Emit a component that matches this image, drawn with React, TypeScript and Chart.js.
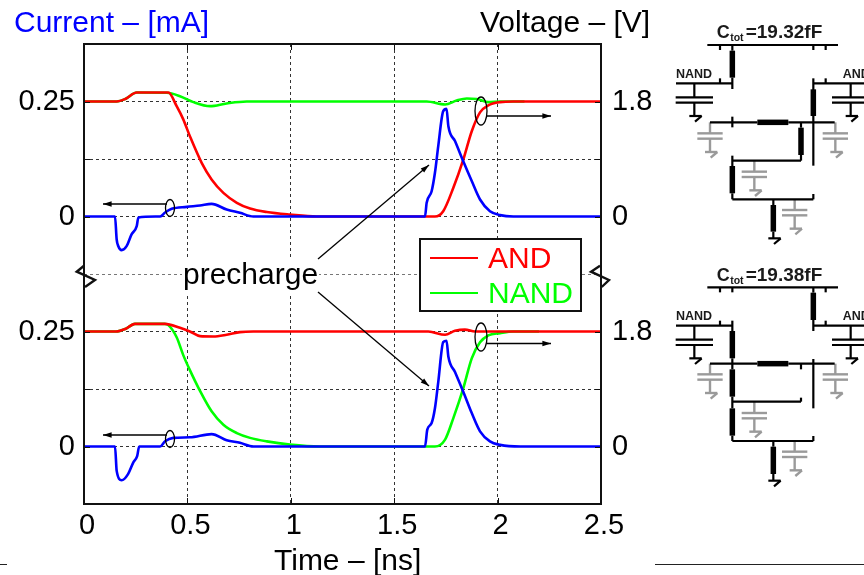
import React, { useEffect, useRef } from "react";
import { Chart, registerables } from "chart.js";

Chart.register(...registerables);

// ---------- data (time in ns, current in mA, voltage in V) ----------
const topAndTime = [0, 0.158, 0.2, 0.255, 0.408, 0.448, 0.48, 0.512, 0.569, 0.617, 0.674, 0.739, 0.803, 0.884, 0.996, 1.125, 1.697, 1.737, 1.786, 1.834, 1.875, 1.915, 1.955, 2.012, 2.076, 2.5];
const topAndVolt = [1.8, 1.8, 1.84, 1.94, 1.94, 1.727, 1.52, 1.257, 0.84, 0.58, 0.37, 0.215, 0.125, 0.07, 0.03, 0, 0, 0.083, 0.45, 0.89, 1.335, 1.63, 1.74, 1.79, 1.8, 1.8];

const topNandTime = [0, 0.158, 0.2, 0.255, 0.4, 0.464, 0.529, 0.609, 0.69, 0.787, 1.657, 1.746, 1.802, 1.851, 1.899, 1.955, 2.012, 2.13];
const topNandVolt = [1.8, 1.8, 1.84, 1.94, 1.936, 1.883, 1.79, 1.727, 1.77, 1.8, 1.8, 1.753, 1.815, 1.847, 1.84, 1.79, 1.8, 1.8];

const topCurTime = [0, 0.15, 0.158, 0.166, 0.182, 0.206, 0.23, 0.255, 0.263, 0.368, 0.392, 0.424, 0.497, 0.561, 0.617, 0.69, 0.754, 0.819, 1.649, 1.657, 1.681, 1.697, 1.713, 1.737, 1.753, 1.762, 1.794, 1.834, 1.875, 1.915, 1.963, 2.012, 2.076, 2.5];
const topCurAmp = [0, 0, -0.05, -0.0645, -0.073, -0.0645, -0.039, -0.021, -0.002, 0, 0.0087, 0.0167, 0.021, 0.024, 0.0275, 0.0152, 0.008, 0, 0, 0.03, 0.055, 0.095, 0.153, 0.229, 0.234, 0.196, 0.164, 0.12, 0.077, 0.037, 0.0115, 0.003, 0, 0];

const botNandTime = [0, 0.155, 0.2, 0.246, 0.39, 0.408, 0.448, 0.48, 0.512, 0.561, 0.617, 0.674, 0.739, 0.803, 0.884, 0.996, 1.14, 1.697, 1.746, 1.786, 1.834, 1.875, 1.915, 1.955, 2.012, 2.076, 2.2];
const botNandVolt = [1.8, 1.8, 1.84, 1.92, 1.92, 1.9, 1.71, 1.43, 1.195, 0.87, 0.55, 0.34, 0.21, 0.135, 0.08, 0.03, 0, 0, 0.108, 0.445, 0.91, 1.38, 1.63, 1.74, 1.775, 1.8, 1.8];

const botAndTime = [0, 0.155, 0.2, 0.246, 0.392, 0.464, 0.512, 0.561, 0.625, 0.69, 0.754, 0.819, 1.665, 1.746, 1.794, 1.842, 1.891, 1.95, 2.5];
const botAndVolt = [1.8, 1.8, 1.84, 1.92, 1.92, 1.857, 1.8, 1.727, 1.722, 1.749, 1.79, 1.8, 1.8, 1.749, 1.81, 1.83, 1.8, 1.8, 1.8];

const botCurTime = [0, 0.15, 0.158, 0.182, 0.213, 0.238, 0.257, 0.267, 0.368, 0.392, 0.432, 0.512, 0.617, 0.69, 0.754, 0.819, 1.649, 1.66, 1.681, 1.697, 1.713, 1.737, 1.753, 1.762, 1.794, 1.834, 1.875, 1.915, 1.963, 2.012, 2.11, 2.5];
const botCurAmp = [0, 0, -0.053, -0.0733, -0.06, -0.035, -0.021, 0, 0, 0.0114, 0.0187, 0.02, 0.027, 0.0136, 0.008, 0, 0, 0.0366, 0.051, 0.083, 0.14, 0.227, 0.23, 0.195, 0.162, 0.119, 0.0726, 0.033, 0.011, 0.0035, 0, 0];

const legendLabels = ["AND", "NAND"];
const xTickValues = [0, 0.5, 1, 1.5, 2, 2.5];
const xTickLabels = ["0", "0.5", "1", "1.5", "2", "2.5"];
const leftTickLabels = ["0", "0.25", "0", "0.25"];
const rightTickLabels = ["0", "1.8", "0", "1.8"];
const labelledRows = [0, 0.25, 0.5, 0.75];
const yLeftTitle = "Current – [mA]";
const yRightTitle = "Voltage – [V]";
const xTitle = "Time – [ns]";
const noteText = "precharge";
const capTop = "19.32fF";
const capBottom = "19.38fF";

// ---------- colours, scale mapping ----------
const RED = "#ff0000";
const GREEN = "#00ff00";
const BLUE = "#0000ff";
const INK = "#000";
const FONT = '"Liberation Sans", Arial, sans-serif';
const PANEL_OFFSET = 0.5; // upper panel sits 0.5 above lower panel on the shared axis
const V_TO_AXIS = 0.25 / 1.8;

const pts = (t: number[], v: number[], k: number, off: number) =>
  t.map((x, i) => ({ x, y: v[i] * k + off }));

type Seg = number[];
// schematic geometry, in 3x-zoomed units relative to each block's origin
const heavy = (x1: number, y1: number, x2: number, y2: number): Seg => [x1, y1, x2, y2];

function capacitor(x: number, y0: number, half: number, start: number = y0) {
  // returns wire segments of a capacitor with ground; y0 is 42 above the upper plate
  return [
    [x, start, x, y0 + 42],
    [x - half, y0 + 42, x + half, y0 + 42],
    [x - half, y0 + 58, x + half, y0 + 58],
    [x, y0 + 58, x, y0 + 98],
    [x - 15, y0 + 98, x + 22, y0 + 98],
    [x + 22, y0 + 98, x + 2, y0 + 115],
  ];
}

const schematicA = {
  ox: 660, oy: 10, titleY: 84, labelY: 203, cap: capTop,
  wires: [
    [142, 105, 534, 105], [180, 105, 180, 120], [217, 105, 217, 122], [460, 105, 460, 120], [497, 105, 497, 120],
    [217, 203, 217, 237], [48, 220, 217, 220], [180, 205, 180, 220],
    [460, 205, 460, 240], [460, 220, 612, 220], [497, 205, 497, 220], [460, 318, 460, 467],
    [150, 337, 292, 337], [217, 320, 217, 352], [385, 337, 524, 337], [423, 337, 423, 353], [423, 435, 423, 452],
    [217, 452, 423, 452], [217, 437, 217, 468], [217, 550, 217, 568], [217, 568, 460, 568], [460, 552, 460, 568],
    [340, 568, 340, 585], [340, 665, 340, 685], [325, 685, 362, 685], [362, 685, 342, 702],
    ...capacitor(103, 220, 56), ...capacitor(572, 220, 56),
  ],
  thick: [heavy(217, 122, 217, 203), heavy(460, 238, 460, 318), heavy(292, 337, 385, 337), heavy(423, 353, 423, 435), heavy(217, 468, 217, 550), heavy(340, 585, 340, 665)],
  grey: [...capacitor(150, 328, 38, 337), ...capacitor(526, 328, 38, 337), ...capacitor(283, 443, 38, 452), ...capacitor(404, 558, 38, 568)],
};

const schematicB = {
  ox: 660, oy: 255, titleY: 77, labelY: 195, cap: capBottom,
  wires: [
    [142, 97, 534, 97], [180, 97, 180, 112], [217, 97, 217, 112], [497, 97, 497, 112], [460, 97, 460, 113],
    [460, 195, 460, 228], [460, 212, 612, 212], [497, 197, 497, 212],
    [48, 212, 217, 212], [180, 197, 180, 212], [217, 197, 217, 228], [217, 310, 217, 343], [217, 425, 217, 460], [217, 542, 217, 558],
    [150, 326, 292, 326], [385, 326, 524, 326], [423, 326, 423, 343], [460, 312, 460, 460],
    [217, 440, 423, 440], [423, 428, 423, 440], [217, 558, 460, 558], [460, 543, 460, 558],
    [340, 558, 340, 575], [340, 657, 340, 677], [325, 677, 362, 677], [362, 677, 342, 694],
    ...capacitor(103, 212, 56), ...capacitor(572, 212, 56),
  ],
  thick: [heavy(460, 113, 460, 195), heavy(217, 228, 217, 310), heavy(217, 343, 217, 425), heavy(217, 460, 217, 542), heavy(292, 326, 385, 326), heavy(340, 575, 340, 657)],
  grey: [...capacitor(150, 316, 38, 326), ...capacitor(526, 316, 38, 326), ...capacitor(283, 432, 38, 440), ...capacitor(404, 548, 38, 558)],
};

function drawSchematic(ctx: CanvasRenderingContext2D, s: typeof schematicA) {
  const X = (z: number) => s.ox + z / 3;
  const Y = (z: number) => s.oy + z / 3;
  const stroke = (list: number[][], color: string, w: number) => {
    ctx.strokeStyle = color;
    ctx.lineWidth = w;
    ctx.setLineDash([]);
    ctx.lineCap = "butt";
    list.forEach(([a, b, c, d]) => {
      ctx.beginPath();
      ctx.moveTo(X(a), Y(b));
      ctx.lineTo(X(c), Y(d));
      ctx.stroke();
    });
  };
  stroke(s.grey, "#9a9a9a", 2.4);
  stroke(s.wires, "#000", 2.2);
  stroke(s.thick, "#000", 5.5);
  ctx.fillStyle = "#1a1a1a";
  ctx.textBaseline = "alphabetic";
  ctx.textAlign = "left";
  ctx.font = `bold 12.5px ${FONT}`;
  ctx.fillText("NAND", X(48), Y(s.labelY));
  ctx.fillText("AND", X(548), Y(s.labelY));
  ctx.font = `bold 18px ${FONT}`;
  ctx.fillText("C", X(170), Y(s.titleY));
  ctx.font = `bold 10.5px ${FONT}`;
  ctx.fillText("tot", X(170) + 13.5, Y(s.titleY) + 3);
  ctx.font = `bold 19px ${FONT}`;
  ctx.fillText("=" + s.cap, X(170) + 29, Y(s.titleY));
}

function arrow(ctx: CanvasRenderingContext2D, x1: number, y1: number, x2: number, y2: number) {
  const a = Math.atan2(y2 - y1, x2 - x1);
  ctx.strokeStyle = "#000";
  ctx.fillStyle = "#000";
  ctx.lineWidth = 1.3;
  ctx.setLineDash([]);
  ctx.beginPath();
  ctx.moveTo(x1, y1);
  ctx.lineTo(x2, y2);
  ctx.stroke();
  ctx.beginPath();
  ctx.moveTo(x2, y2);
  ctx.lineTo(x2 - 9 * Math.cos(a - 0.3), y2 - 9 * Math.sin(a - 0.3));
  ctx.lineTo(x2 - 9 * Math.cos(a + 0.3), y2 - 9 * Math.sin(a + 0.3));
  ctx.closePath();
  ctx.fill();
}

function ellipse(ctx: CanvasRenderingContext2D, x: number, y: number, rx: number, ry: number) {
  ctx.strokeStyle = "#000";
  ctx.lineWidth = 1.3;
  ctx.beginPath();
  ctx.ellipse(x, y, rx, ry, 0, 0, Math.PI * 2);
  ctx.stroke();
}

const decorations = {
  id: "decorations",
  afterDraw(chart: any) {
    const ctx: CanvasRenderingContext2D = chart.ctx;
    const { left, right, top, bottom } = chart.chartArea;
    ctx.save();

    // frame
    ctx.strokeStyle = "#111";
    ctx.lineWidth = 2;
    ctx.setLineDash([]);
    ctx.strokeRect(left, top, right - left, bottom - top);

    // short solid inner ticks
    ctx.lineWidth = 1;
    ctx.beginPath();
    chart.scales.x.ticks.forEach((t: any) => {
      const px = Math.round(chart.scales.x.getPixelForValue(t.value)) + 0.5;
      ctx.moveTo(px, bottom);
      ctx.lineTo(px, bottom - 6);
      ctx.moveTo(px, top);
      ctx.lineTo(px, top + 6);
    });
    chart.scales.y.ticks.forEach((t: any) => {
      if (t.value === 0.375) return;
      const py = Math.round(chart.scales.y.getPixelForValue(t.value)) + 0.5;
      ctx.moveTo(left, py);
      ctx.lineTo(left + 6, py);
      ctx.moveTo(right, py);
      ctx.lineTo(right - 6, py);
    });
    ctx.stroke();

    // axis titles
    ctx.textBaseline = "alphabetic";
    ctx.textAlign = "left";
    ctx.font = `30px ${FONT}`;
    ctx.fillStyle = BLUE;
    ctx.fillText(yLeftTitle, 14, 32);
    ctx.fillStyle = INK;
    ctx.fillText(yRightTitle, 480, 32);
    ctx.fillText(xTitle, 274, 570);

    // axis break marks
    ctx.lineWidth = 2.4;
    ctx.strokeStyle = "#111";
    [[84, 265.7, 76.7, 271.7, 95, 280, 85, 287], [600, 265.7, 591, 271.7, 609, 280, 601.7, 287]].forEach((p) => {
      ctx.beginPath();
      ctx.moveTo(p[0], p[1]);
      ctx.lineTo(p[2], p[3]);
      ctx.lineTo(p[4], p[5]);
      ctx.lineTo(p[6], p[7]);
      ctx.stroke();
    });

    // ellipses and arrows
    ellipse(ctx, 170, 208, 4.5, 8.5);
    arrow(ctx, 167, 204, 103, 204);
    ellipse(ctx, 481, 111, 6, 14);
    arrow(ctx, 487, 116, 551, 116);
    ellipse(ctx, 170, 439, 4.5, 8.5);
    arrow(ctx, 167, 435, 103, 435);
    ellipse(ctx, 481, 337, 6, 14);
    arrow(ctx, 487, 343.5, 551, 343.5);

    // precharge note
    ctx.fillStyle = "#fff";
    ctx.fillRect(182, 258, 137, 35);
    ctx.fillStyle = INK;
    ctx.font = `30px ${FONT}`;
    ctx.textBaseline = "alphabetic";
    ctx.fillText(noteText, 183, 284);
    arrow(ctx, 318, 259, 429, 165);
    arrow(ctx, 318, 292, 429, 386);

    // legend box
    ctx.fillStyle = "#fff";
    ctx.fillRect(420, 239, 161, 72);
    ctx.strokeStyle = "#111";
    ctx.lineWidth = 2;
    ctx.strokeRect(420, 239, 161, 72);
    [RED, GREEN].forEach((c, i) => {
      const y = 258 + i * 35;
      ctx.strokeStyle = c;
      ctx.beginPath();
      ctx.moveTo(430, y);
      ctx.lineTo(478, y);
      ctx.stroke();
      ctx.fillStyle = c;
      ctx.font = `30px ${FONT}`;
      ctx.textBaseline = "alphabetic";
      ctx.fillText(legendLabels[i], 488, y + 9.5);
    });

    // stray rules along the bottom of the page
    ctx.strokeStyle = "#222";
    ctx.lineWidth = 1;
    ctx.beginPath();
    ctx.moveTo(0, 564.5);
    ctx.lineTo(7, 564.5);
    ctx.moveTo(655, 564.5);
    ctx.lineTo(864, 564.5);
    ctx.stroke();

    drawSchematic(ctx, schematicA);
    drawSchematic(ctx, schematicB);
    ctx.restore();
  },
};

const lineDefaults = { borderWidth: 2.6, pointRadius: 0, tension: 0.25, fill: false, cubicInterpolationMode: "monotone" as const };

export default function App() {
  const ref = useRef<HTMLCanvasElement>(null);
  useEffect(() => {
    if (!ref.current) return;
    const chart = new Chart(ref.current, {
      type: "line",
      data: {
        // the first dataset is painted last, on top
        datasets: [
          { label: "Current (upper)", data: pts(topCurTime, topCurAmp, 1, PANEL_OFFSET), borderColor: BLUE, ...lineDefaults },
          { label: "Current (lower)", data: pts(botCurTime, botCurAmp, 1, 0), borderColor: BLUE, ...lineDefaults },
          { label: "AND voltage (upper)", data: pts(topAndTime, topAndVolt, V_TO_AXIS, PANEL_OFFSET), borderColor: RED, ...lineDefaults },
          { label: "AND voltage (lower)", data: pts(botAndTime, botAndVolt, V_TO_AXIS, 0), borderColor: RED, ...lineDefaults },
          { label: "NAND voltage (upper)", data: pts(topNandTime, topNandVolt, V_TO_AXIS, PANEL_OFFSET), borderColor: GREEN, ...lineDefaults },
          { label: "NAND voltage (lower)", data: pts(botNandTime, botNandVolt, V_TO_AXIS, 0), borderColor: GREEN, ...lineDefaults },
        ],
      },
      options: {
        animation: false,
        responsive: false,
        parsing: false,
        normalized: true,
        layout: { padding: { top: 44, left: 0, right: 0, bottom: 0 } },
        plugins: { legend: { display: false }, tooltip: { enabled: false }, title: { display: false } },
        scales: {
          x: {
            type: "linear",
            min: 0,
            max: 2.5,
            afterBuildTicks: (s: any) => {
              s.ticks = xTickValues.map((value) => ({ value }));
            },
            afterFit: (s: any) => {
              s.height = 71;
            },
            border: { display: false, dash: [3, 3] },
            grid: { color: "#333", lineWidth: 1, drawTicks: false, tickLength: 0 },
            ticks: {
              color: INK,
              padding: 5,
              labelOffset: 3,
              maxRotation: 0,
              autoSkip: false,
              font: { family: FONT, size: 29 },
              callback: (v: any) => xTickLabels[xTickValues.indexOf(Number(v))] ?? "",
            },
          },
          y: {
            type: "linear",
            position: "left",
            min: -0.125,
            max: 0.875,
            afterFit: (s: any) => {
              s.width = 84;
            },
            border: { display: false, dash: [3, 3] },
            grid: {
              color: (c: any) => (c.tick && c.tick.value === 0.375 ? "#777" : "#333"),
              lineWidth: 1,
              drawTicks: false,
              tickLength: 0,
            },
            ticks: {
              stepSize: 0.125,
              color: INK,
              padding: 9,
              autoSkip: false,
              font: { family: FONT, size: 29 },
              callback: (v: any) => leftTickLabels[labelledRows.indexOf(Number(v))] ?? "",
            },
          },
          y2: {
            type: "linear",
            position: "right",
            min: -0.125,
            max: 0.875,
            afterFit: (s: any) => {
              s.width = 263;
            },
            border: { display: false },
            grid: { display: false, drawOnChartArea: false, drawTicks: false, tickLength: 0 },
            ticks: {
              stepSize: 0.125,
              color: INK,
              padding: 11,
              autoSkip: false,
              font: { family: FONT, size: 29 },
              callback: (v: any) => rightTickLabels[labelledRows.indexOf(Number(v))] ?? "",
            },
          },
        },
      } as any,
      plugins: [decorations],
    });
    return () => chart.destroy();
  }, []);
  return (
    <div style={{ position: "absolute", left: 0, top: 0, width: 864, height: 575 }}>
      <canvas ref={ref} width={864} height={575} style={{ display: "block" }} />
    </div>
  );
}
